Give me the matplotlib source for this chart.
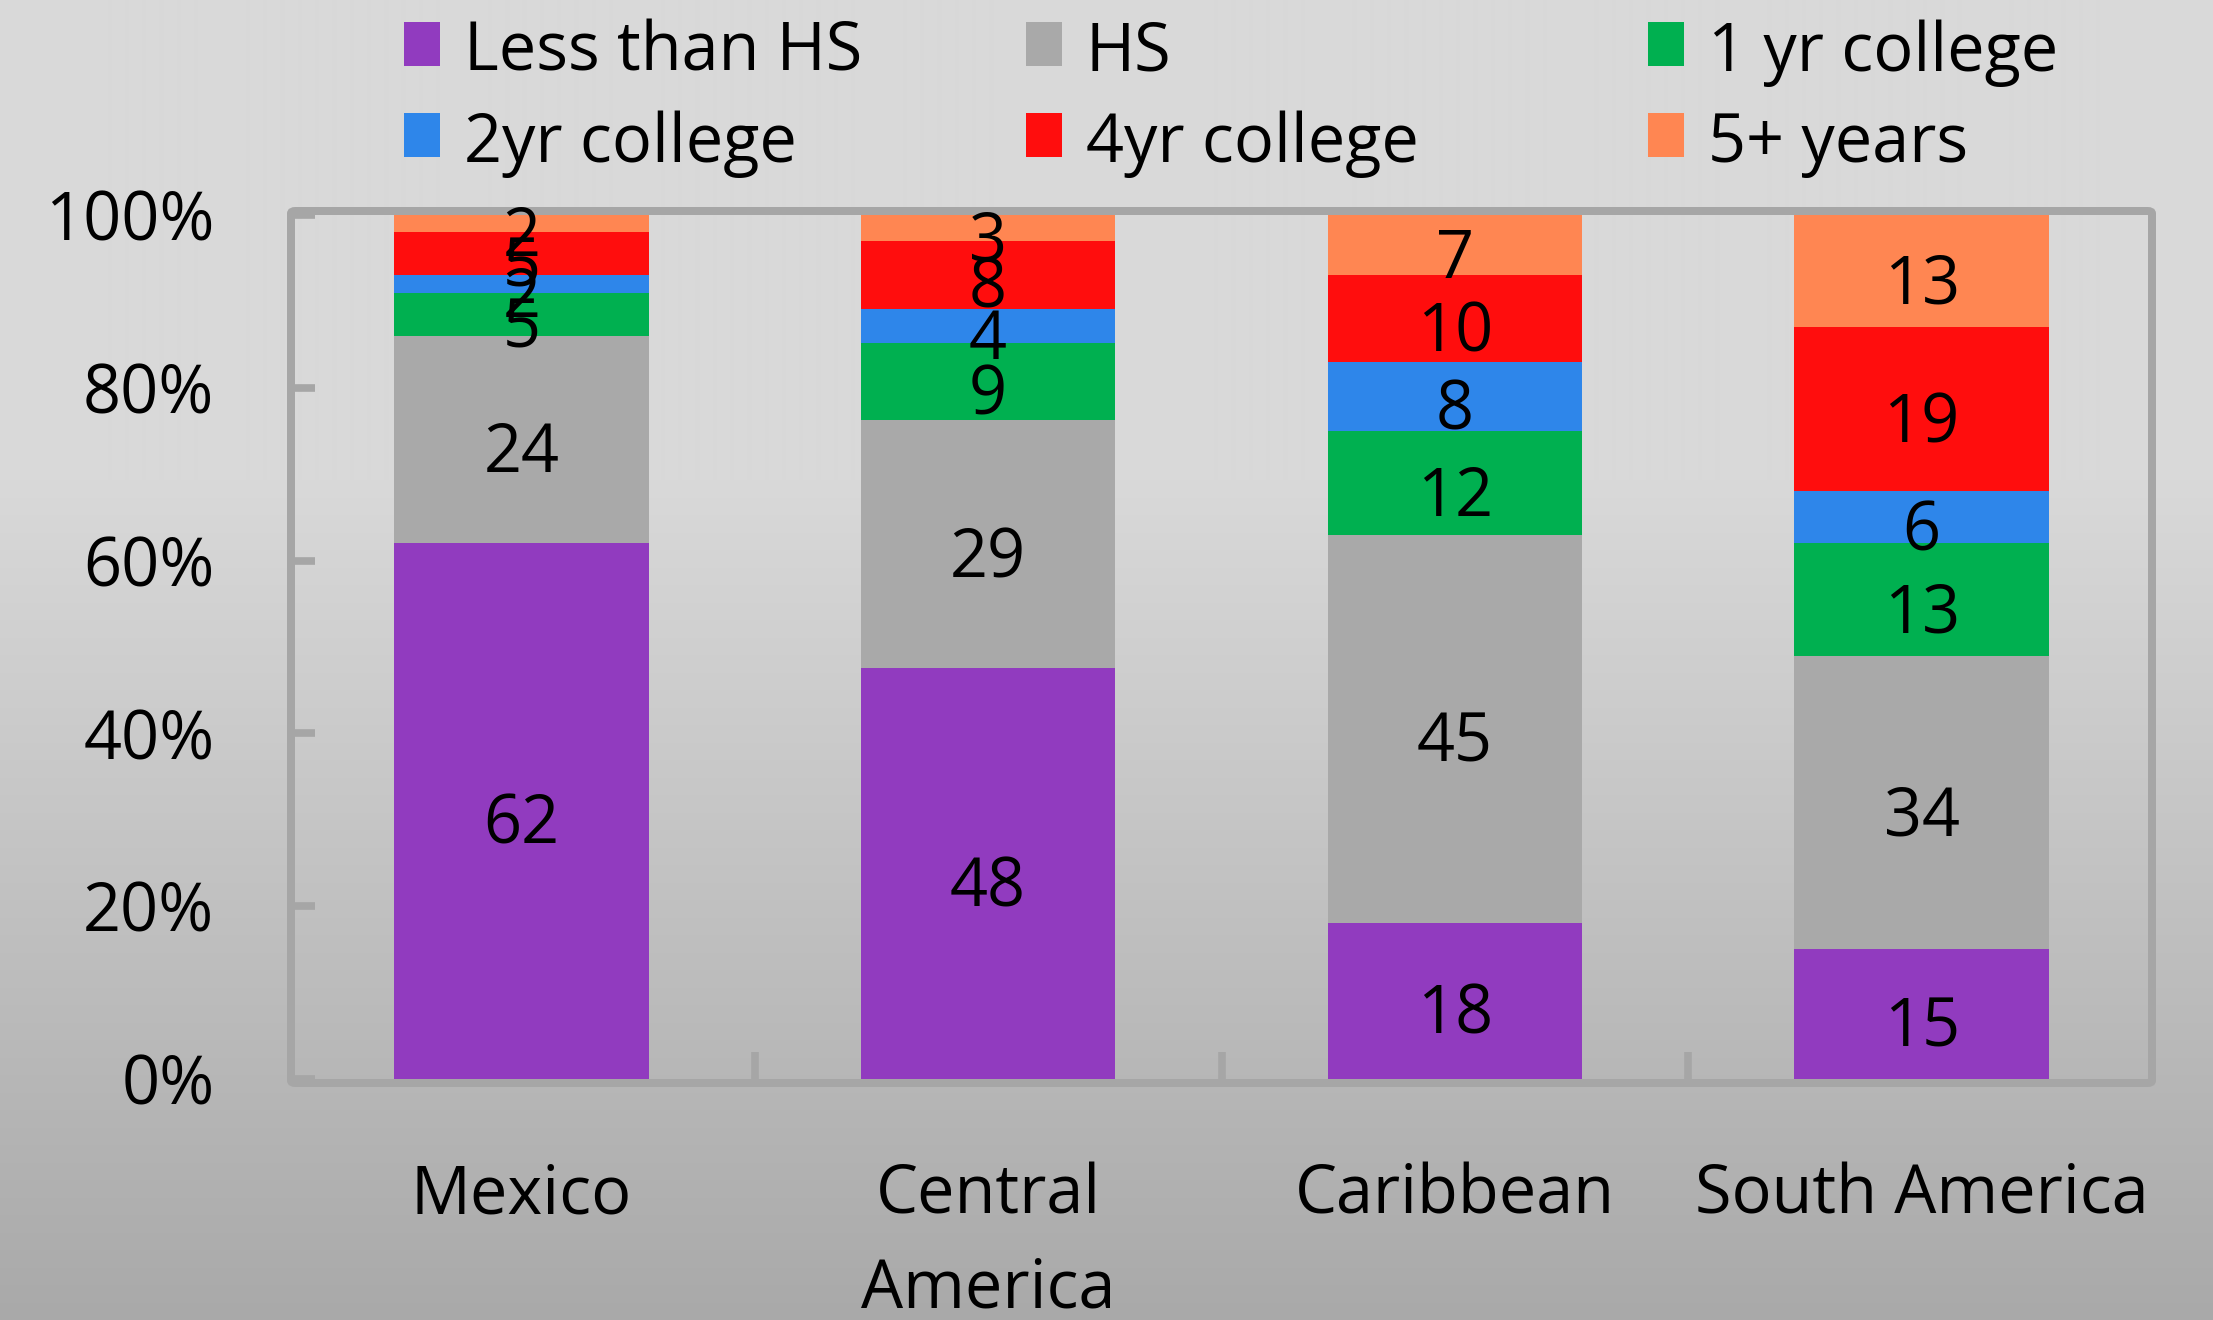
import numpy as np
import matplotlib
matplotlib.use("Agg")
import matplotlib.pyplot as plt
from matplotlib.patches import Rectangle, FancyBboxPatch

# Educational attainment of immigrants by region of origin (percent)
regions = ["Mexico", "Central\nAmerica", "Caribbean", "South America"]
levels = ["Less than HS", "HS", "1 yr college", "2yr college", "4yr college", "5+ years"]
less_than_hs = [62, 48, 18, 15]
high_school = [24, 29, 45, 34]
one_yr_college = [5, 9, 12, 13]
two_yr_college = [2, 4, 8, 6]
four_yr_college = [5, 8, 10, 19]
five_plus_years = [2, 3, 7, 13]
y_ticks = [0, 20, 40, 60, 80, 100]
y_tick_labels = ["0%", "20%", "40%", "60%", "80%", "100%"]

colors = ["#913bbf", "#a9a9a9", "#00b050", "#2e86ea", "#ff0d0d", "#ff8652"]
frame_color = "#a6a6a6"

plt.rcParams["font.family"] = ["Open Sans", "DejaVu Sans"]
FS = 48

W, H = 2213, 1320
fig = plt.figure(figsize=(W / 100, H / 100), dpi=100)

# vertical grey gradient background
bg = fig.add_axes([0, 0, 1, 1], zorder=-10)
rows = np.arange(H)
vals = np.where(rows < 480, 217, 217 - (rows - 480) / (H - 480) * 48) / 255.0
grad = np.repeat(vals[:, None], 2, axis=1)
bg.imshow(np.dstack([grad, grad, grad]), aspect="auto", extent=[0, 1, 0, 1],
          interpolation="bilinear")
bg.set_axis_off()

# plot area in pixels
x0, x1, y_top, y_bot = 295, 2148, 215, 1079
ax = fig.add_axes([x0 / W, (H - y_bot) / H, (x1 - x0) / W, (y_bot - y_top) / H])
ax.set_facecolor("none")

series = [less_than_hs, high_school, one_yr_college, two_yr_college,
          four_yr_college, five_plus_years]
data = np.array(series, dtype=float)
totals = data.sum(axis=0)
shares = data / totals * 100

xpos = np.arange(len(regions))
bottom = np.zeros(len(regions))
for i, (name, col) in enumerate(zip(levels, colors)):
    bars = ax.bar(xpos, shares[i], bottom=bottom, width=0.545, color=col,
                  edgecolor="none", label=name)
    for j, b in enumerate(bars):
        ax.annotate(f"{series[i][j]:g}", (xpos[j], bottom[j] + shares[i][j] / 2),
                    xytext=(0, -5), textcoords="offset points",
                    ha="center", va="center_baseline", fontsize=FS, color="black",
                    annotation_clip=False)
    bottom += shares[i]

ax.set_xlim(-0.485, len(regions) - 1 + 0.485)
ax.set_ylim(0, 100)
for s in ax.spines.values():
    s.set_visible(False)

ax.set_yticks(y_ticks)
ax.set_yticklabels(y_tick_labels)
ax.tick_params(axis="y", direction="in", length=14.5, width=5.5, color=frame_color,
               labelsize=FS, pad=58)
ax.set_xticks(xpos)
ax.set_xticklabels(regions, linespacing=1.5)
ax.tick_params(axis="x", which="major", length=0, labelsize=FS, pad=60)
ax.set_xticks(xpos[:-1] + 0.5, minor=True)
ax.tick_params(axis="x", which="minor", direction="in", length=19.5, width=5.5,
               color=frame_color)

# rounded frame around the plot area, drawn beneath the bars and labels
fw = 8
frame = FancyBboxPatch(((x0 - fw / 2) / W, (H - y_bot - fw / 2) / H),
                       (x1 - x0 + fw) / W, (y_bot - y_top + fw) / H,
                       boxstyle="round,pad=0,rounding_size=0.002",
                       transform=fig.transFigure, fill=False,
                       edgecolor=frame_color, linewidth=fw * 0.72, zorder=-1)
fig.patches.append(frame)

# legend: two rows of three entries
col_x = [404, 1026, 1648]
row_y = [45, 136]
for k, (name, col) in enumerate(zip(levels, colors)):
    r, c = divmod(k, 3)
    mx, my = col_x[c], row_y[r]
    fig.patches.append(Rectangle((mx / W, (H - my - 21) / H), 36 / W, 44 / H,
                                 transform=fig.transFigure, facecolor=col,
                                 edgecolor="none"))
    fig.text((mx + 60) / W, (H - my) / H, name, fontsize=FS, ha="left",
             va="center_baseline", color="black")

fig.savefig("out.png", dpi=100)
